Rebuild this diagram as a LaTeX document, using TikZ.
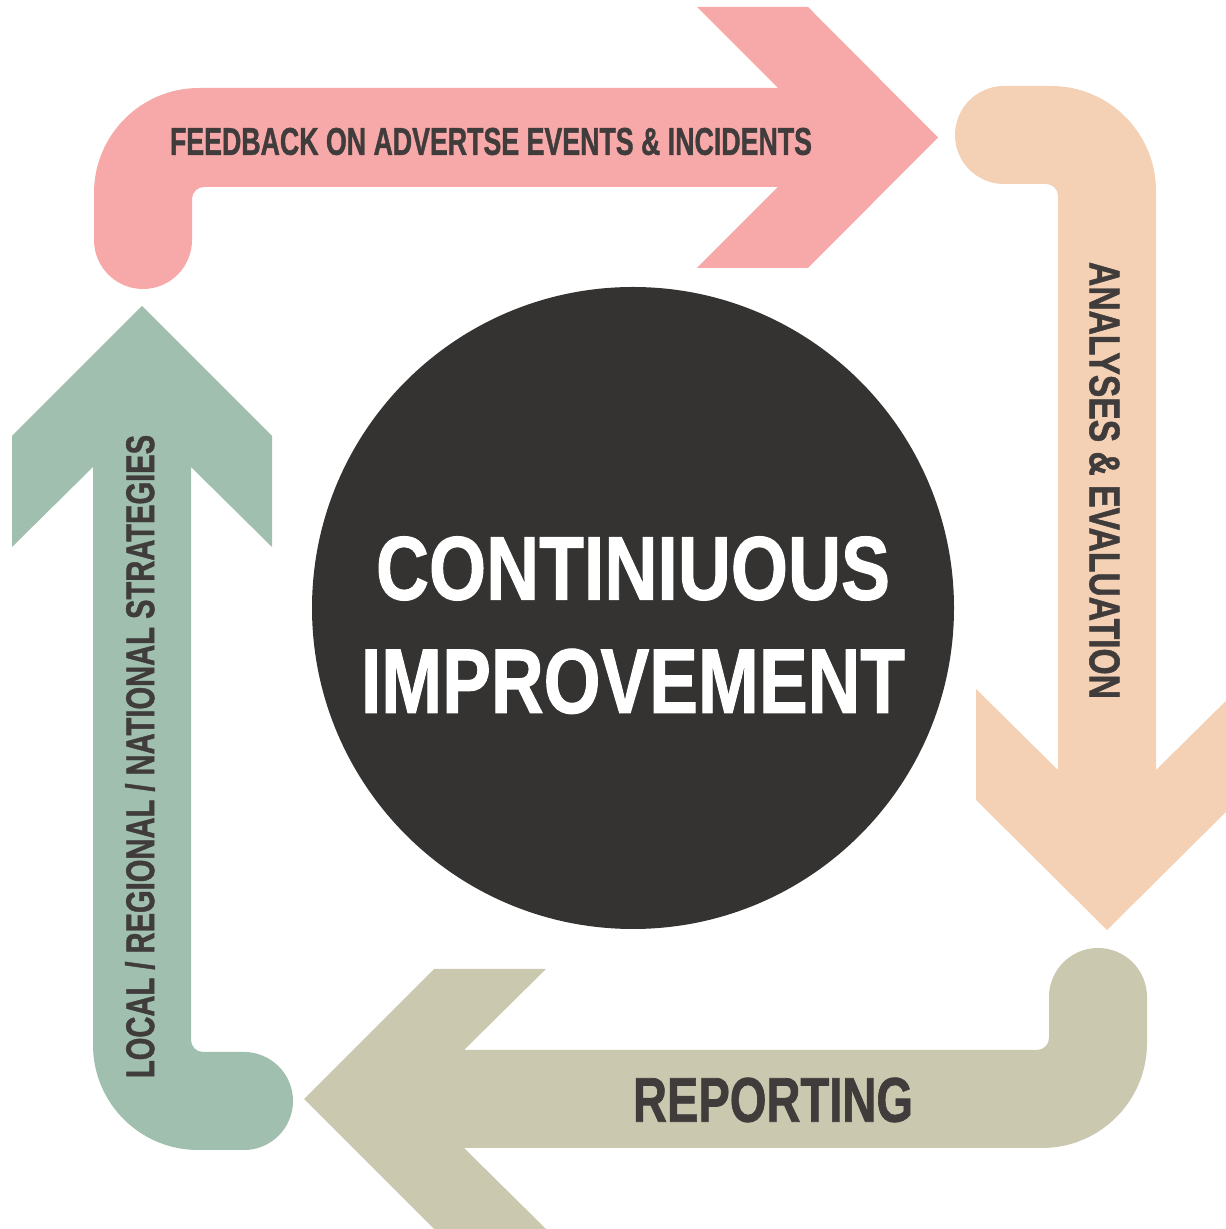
\documentclass[tikz,border=0pt]{standalone}
\usepackage{fontspec}
\setmainfont{Liberation Sans}[BoldFeatures={FakeBold=1.3}]
\usepackage{graphicx}
\usepackage{tikz}
\usetikzlibrary{positioning}
\definecolor{feedbackpink}{HTML}{F7A8A8}
\definecolor{analysispeach}{HTML}{F4D0B4}
\definecolor{reportkhaki}{HTML}{CAC8AF}
\definecolor{strategygreen}{HTML}{A0BFAF}
\definecolor{circlegray}{HTML}{353331}
\definecolor{textgray}{HTML}{403C3C}
\newcommand{\fitlabel}[3]{\resizebox{#1}{#2}{#3}}

\begin{document}
\begin{tikzpicture}[x=1pt, y=1pt,
    steptext/.style={inner sep=0pt, text=textgray, font=\bfseries}]
  \useasboundingbox (0,0) rectangle (1226,1229);
  % feedback (top, to the right)
  \fill[feedbackpink] (778,1141) -- (697,1222) -- (808,1222) -- (938,1091.5)
    -- (808,961) -- (697,961) -- (778,1042) -- (204,1042)
    arc[start angle=90, end angle=180, radius=12pt] -- (192,989)
    arc[start angle=0, end angle=-180, radius=49pt] -- (94,1036)
    arc[start angle=180, end angle=90, radius=105pt] -- cycle;
  % analyses (right, downwards)
  \fill[analysispeach] (1004,1143) -- (1051,1143)
    arc[start angle=90, end angle=0, radius=105pt] -- (1156,459)
    -- (1238,540) -- (1238,429) -- (1107,299) -- (976,429) -- (976,540)
    -- (1058,459) -- (1058,1033)
    arc[start angle=0, end angle=90, radius=12pt] -- (1004,1045)
    arc[start angle=270, end angle=90, radius=49pt] -- cycle;
  % reporting (bottom, to the left)
  \fill[reportkhaki] (1147,232) -- (1147,186)
    arc[start angle=0, end angle=-90, radius=105pt] -- (464,81)
    -- (546,0) -- (434,0) -- (304,130) -- (434,260) -- (546,260)
    -- (464,179) -- (1037,179)
    arc[start angle=-90, end angle=0, radius=12pt] -- (1049,232)
    arc[start angle=180, end angle=0, radius=49pt] -- cycle;
  % strategies (left, upwards)
  \fill[strategygreen] (244,177) -- (203,177)
    arc[start angle=270, end angle=180, radius=12pt] -- (191,762)
    -- (272,682) -- (272,793) -- (142,923) -- (12,793) -- (12,682)
    -- (93,762) -- (93,184)
    arc[start angle=180, end angle=270, radius=105pt] -- (244,79)
    arc[start angle=-90, end angle=90, radius=49pt] -- cycle;
  \node[steptext] (feedbacktext) at (491,1087.5)
    {\fitlabel{642pt}{27pt}{FEEDBACK ON ADVERTSE EVENTS \& INCIDENTS}};
  \node[steptext, rotate=-90] (analysestext) at (1104.5,748.5)
    {\fitlabel{437pt}{30pt}{ANALYSES \& EVALUATION}};
  \node[steptext] (reportingtext) at (773,129)
    {\fitlabel{280pt}{44pt}{REPORTING}};
  \node[steptext, rotate=90] (strategiestext) at (140,472.5)
    {\fitlabel{643pt}{29pt}{LOCAL / REGIONAL / NATIONAL STRATEGIES}};
  % centre
  \fill[circlegray] (633,621) circle[radius=321pt];
  \node[steptext, text=white] (continuous) at (633,660.5)
    {\fitlabel{514pt}{63pt}{CONTINIUOUS}};
  \node[steptext, text=white, below=48pt of continuous] (improvement)
    {\fitlabel{544pt}{64pt}{IMPROVEMENT}};
\end{tikzpicture}
\end{document}
